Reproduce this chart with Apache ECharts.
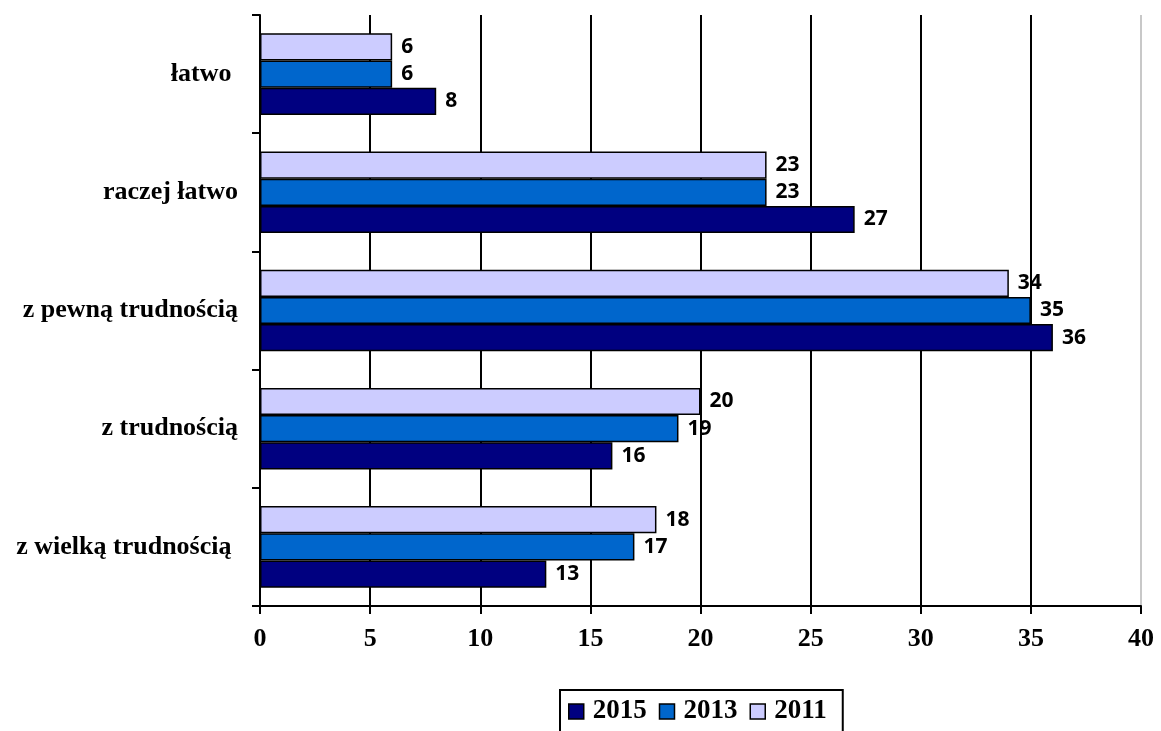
<!DOCTYPE html>
<html><head><meta charset="utf-8">
<script src="https://cdn.jsdelivr.net/npm/echarts@6/dist/echarts.min.js"></script>
<style>html,body{margin:0;padding:0;background:#fff}#c{width:1161px;height:731px}</style>
</head><body><div id="c"></div>
<script>
const categories = ['łatwo ', 'raczej łatwo', 'z pewną trudnością', 'z trudnością', 'z wielką trudnością '];
const years = ['2015', '2013', '2011'];
const v2015 = [8, 27, 36, 16, 13];
const v2013 = [6, 23, 35, 19, 17];
const v2011 = [6, 23, 34, 20, 18];
const xTicks = [0, 5, 10, 15, 20, 25, 30, 35, 40];
const colors = {'2015': '#000080', '2013': '#0066CC', '2011': '#CCCCFF'};
const values = {'2015': v2015, '2013': v2013, '2011': v2011};

const serif = '"Liberation Serif", "Times New Roman", serif';
const sans = '"Open Sans", "Liberation Sans", sans-serif';

// draw order top->bottom within a group: 2011, 2013, 2015
const drawOrder = ['2011', '2013', '2015'];
const series = drawOrder.map(y => ({
  name: y, type: 'bar', data: values[y],
  barGap: '0%', barCategoryGap: '31%',
  itemStyle: {color: colors[y], borderColor: '#000', borderWidth: 1.5},
  label: {show: true, position: 'right', distance: 9, color: '#000',
    fontFamily: sans, fontWeight: 'bold', fontSize: 21},
  emphasis: {disabled: true}
}));

const chart = echarts.init(document.getElementById('c'), null, {renderer: 'canvas'});
chart.setOption({
  animation: false,
  backgroundColor: '#fff',
  grid: {left: 260, right: 20, top: 15, bottom: 125, containLabel: false},
  xAxis: {
    type: 'value', min: xTicks[0], max: xTicks[xTicks.length - 1], interval: 5,
    axisLine: {show: true, lineStyle: {color: '#000', width: 2}},
    axisTick: {show: true, inside: false, length: 8, lineStyle: {color: '#000', width: 2}},
    axisLabel: {color: '#000', fontFamily: serif, fontWeight: 'bold', fontSize: 26, margin: 20},
    splitLine: {show: true, lineStyle: {color: ['#000','#000','#000','#000','#000','#000','#000','#000','#c8c8c8'], width: 2}}
  },
  yAxis: {
    type: 'category', data: categories, inverse: true,
    axisLine: {show: true, lineStyle: {color: '#000', width: 2}},
    axisTick: {show: true, inside: false, length: 8, lineStyle: {color: '#000', width: 2}},
    axisLabel: {color: '#000', fontFamily: serif, fontWeight: 'bold', fontSize: 26, margin: 22},
    splitLine: {show: false}
  },
  legend: {
    data: years, left: 560, top: 690, orient: 'horizontal',
    itemWidth: 15, itemHeight: 15, itemGap: 12,
    icon: 'rect',
    padding: [8, 16, 30, 8],
    borderColor: '#000', borderWidth: 2,
    textStyle: {color: '#000', fontFamily: serif, fontWeight: 'bold', fontSize: 27, padding: [0, 0, 0, 4]},
    itemStyle: {borderColor: '#000', borderWidth: 1.5}
  },
  series: series
});
</script></body></html>
